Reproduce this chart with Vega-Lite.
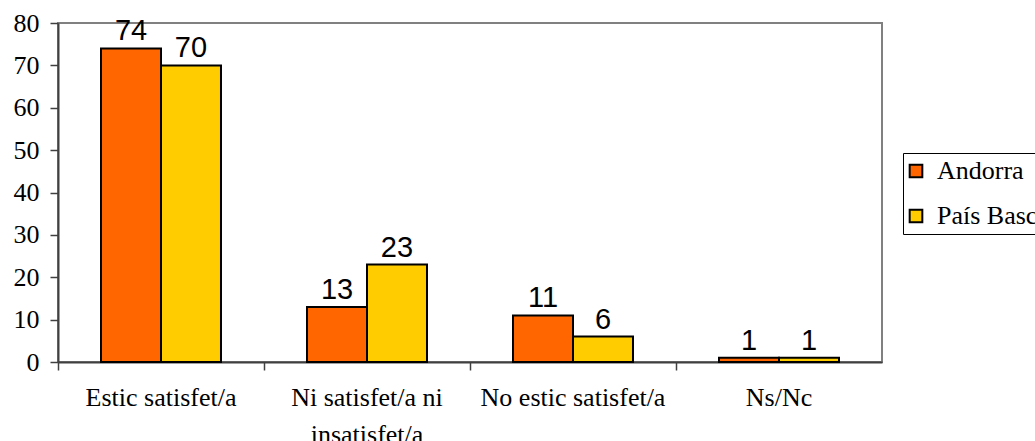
{
  "$schema": "https://vega.github.io/schema/vega-lite/v6.json",
  "autosize": "none",
  "width": 824,
  "height": 339,
  "padding": {"left": 58, "top": 23, "right": 153, "bottom": 79},
  "background": "white",
  "config": {
    "view": {"stroke": "#808080", "strokeWidth": 2},
    "font": "Liberation Serif"
  },
  "data": {
    "values": [
      {"categoria": "Estic satisfet/a", "serie": "Andorra", "valor": 74},
      {"categoria": "Estic satisfet/a", "serie": "País Basc", "valor": 70},
      {"categoria": "Ni satisfet/a ni insatisfet/a", "serie": "Andorra", "valor": 13},
      {"categoria": "Ni satisfet/a ni insatisfet/a", "serie": "País Basc", "valor": 23},
      {"categoria": "No estic satisfet/a", "serie": "Andorra", "valor": 11},
      {"categoria": "No estic satisfet/a", "serie": "País Basc", "valor": 6},
      {"categoria": "Ns/Nc", "serie": "Andorra", "valor": 1},
      {"categoria": "Ns/Nc", "serie": "País Basc", "valor": 1}
    ]
  },
  "encoding": {
    "x": {
      "field": "categoria",
      "type": "nominal",
      "sort": null,
      "scale": {"paddingInner": 0, "paddingOuter": 0},
      "axis": {
        "title": null,
        "labelAngle": 0,
        "bandPosition": 0,
        "labelFont": "Liberation Serif",
        "labelFontSize": 26,
        "labelColor": "black",
        "labelPadding": 14,
        "labelLineHeight": 37,
        "labelAlign": "center",
        "labelLimit": 0,
        "tickColor": "#404040",
        "tickSize": 8,
        "tickWidth": 1.5,
        "domainColor": "#404040",
        "domainWidth": 2,
        "labelExpr": "datum.label == 'Ni satisfet/a ni insatisfet/a' ? ['Ni satisfet/a ni', 'insatisfet/a'] : datum.label"
      }
    },
    "xOffset": {
      "field": "serie",
      "type": "nominal",
      "scale": {"paddingInner": 0, "paddingOuter": 0.717}
    },
    "y": {
      "field": "valor",
      "type": "quantitative",
      "scale": {"domain": [0, 80], "nice": false},
      "axis": {
        "title": null,
        "values": [0, 10, 20, 30, 40, 50, 60, 70, 80],
        "grid": false,
        "labelFont": "Liberation Serif",
        "labelFontSize": 26,
        "labelColor": "black",
        "labelPadding": 11,
        "tickColor": "#404040",
        "tickSize": 8,
        "tickWidth": 1.5,
        "domainColor": "#404040",
        "domainWidth": 2
      }
    }
  },
  "layer": [
    {
      "mark": {"type": "bar", "stroke": "black", "strokeWidth": 2},
      "encoding": {
        "color": {
          "field": "serie",
          "type": "nominal",
          "scale": {"domain": ["Andorra", "País Basc"], "range": ["#FF6600", "#FFCC00"]},
          "legend": {
            "title": null,
            "orient": "none",
            "legendX": 845,
            "legendY": 130,
            "symbolType": "square",
            "symbolSize": 160,
            "symbolOffset": -5,
            "symbolStrokeColor": "black",
            "symbolStrokeWidth": 2,
            "labelFont": "Liberation Serif",
            "labelFontSize": 26,
            "labelColor": "black",
            "labelOffset": 8,
            "labelLimit": 0,
            "rowPadding": 19,
            "strokeColor": "black",
            "padding": 5,
            "fillColor": "white"
          }
        }
      }
    },
    {
      "mark": {"type": "text", "baseline": "alphabetic", "dy": -8, "font": "Liberation Sans", "fontSize": 29, "color": "black"},
      "encoding": {"text": {"field": "valor", "type": "quantitative"}}
    }
  ]
}
